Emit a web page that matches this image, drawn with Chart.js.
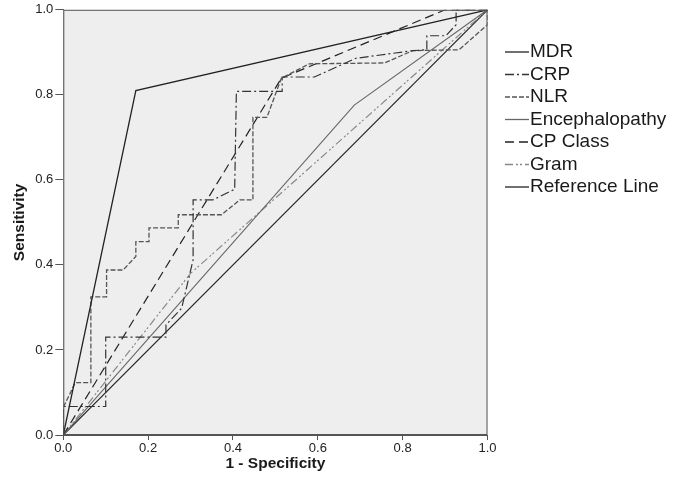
<!DOCTYPE html>
<html lang="en">
<head>
<meta charset="UTF-8">
<title>ROC</title>
<script src="https://cdn.jsdelivr.net/npm/chart.js@4.4.0/dist/chart.umd.min.js"></script>
<style>
  body { margin: 0; background: #fff; }
  #wrap { width: 683px; height: 484px; }
</style>
</head>
<body>
<div id="wrap"><canvas id="chart" width="683" height="484"></canvas></div>
<script>
// curve coordinates (1 - specificity, sensitivity)
const mdrX = [0, 0.171, 1];
const mdrY = [0, 0.81, 1];

const crpX = [0, 0, 0.1, 0.1, 0.242, 0.242, 0.279, 0.306, 0.306, 0.353, 0.404, 0.408, 0.516, 0.516, 0.592, 0.69, 0.824, 0.857, 0.857, 0.902, 0.926, 0.926, 1];
const crpY = [0, 0.067, 0.067, 0.23, 0.23, 0.259, 0.298, 0.412, 0.553, 0.553, 0.578, 0.808, 0.808, 0.842, 0.842, 0.886, 0.904, 0.906, 0.939, 0.939, 0.965, 1, 1];

const nlrX = [0, 0, 0.028, 0.065, 0.065, 0.102, 0.102, 0.141, 0.171, 0.171, 0.202, 0.202, 0.271, 0.271, 0.373, 0.416, 0.447, 0.447, 0.48, 0.514, 0.58, 0.757, 0.824, 0.933, 1, 1];
const nlrY = [0, 0.065, 0.123, 0.123, 0.325, 0.325, 0.388, 0.388, 0.42, 0.455, 0.455, 0.487, 0.487, 0.518, 0.518, 0.553, 0.553, 0.747, 0.747, 0.839, 0.873, 0.875, 0.904, 0.906, 0.965, 1];

const encX = [0, 0.686, 1];
const encY = [0, 0.776, 1];

const cpX = [0, 0.514, 0.9, 1];
const cpY = [0, 0.839, 1, 1];

const gramX = [0, 0.3, 1];
const gramY = [0, 0.38, 1];

const refX = [0, 1];
const refY = [0, 1];

const seriesNames = ['MDR', 'CRP', 'NLR', 'Encephalopathy', 'CP Class', 'Gram', 'Reference Line'];
const tickValues = [0, 0.2, 0.4, 0.6, 0.8, 1.0];

const FONT = "'Liberation Sans', Arial, sans-serif";

function pts(xs, ys) {
  return xs.map((x, i) => ({ x: x, y: ys[i] }));
}

function line(label, xs, ys, color, dash, width) {
  return {
    label: label,
    data: pts(xs, ys),
    showLine: true,
    borderColor: color,
    borderDash: dash,
    borderWidth: width,
    pointRadius: 0,
    fill: false,
    tension: 0
  };
}

const datasets = [
  line(seriesNames[0], mdrX, mdrY, '#222', [], 1.3),
  line(seriesNames[1], crpX, crpY, '#333', [9, 3, 2, 3], 1.2),
  line(seriesNames[2], nlrX, nlrY, '#555', [5, 2], 1.3),
  line(seriesNames[3], encX, encY, '#666', [], 1.1),
  line(seriesNames[4], cpX, cpY, '#222', [9, 5], 1.2),
  line(seriesNames[5], gramX, gramY, '#888', [8, 3, 2, 2, 2, 3], 1.2),
  line(seriesNames[6], refX, refY, '#222', [], 1.2)
];

// grey plot background and frame
const plotFrame = {
  id: 'plotFrame',
  beforeDatasetsDraw(chart) {
    const a = chart.chartArea, ctx = chart.ctx;
    ctx.save();
    ctx.fillStyle = '#eeeeee';
    ctx.fillRect(a.left, a.top, a.right - a.left, a.bottom - a.top);
    ctx.restore();
  },
  afterDatasetsDraw(chart) {
    const a = chart.chartArea, ctx = chart.ctx;
    ctx.save();
    ctx.strokeStyle = '#555';
    ctx.lineWidth = 1;
    ctx.strokeRect(a.left + 0.5, a.top + 0.5, a.right - a.left - 1, a.bottom - a.top - 1);
    ctx.restore();
  }
};

// legend on the right, short line sample + label
const sideLegend = {
  id: 'sideLegend',
  afterDraw(chart) {
    const ctx = chart.ctx;
    ctx.save();
    ctx.font = '19px ' + FONT;
    ctx.textBaseline = 'middle';
    ctx.fillStyle = '#1a1a1a';
    chart.data.datasets.forEach((ds, i) => {
      const y = 52 + i * 22.5;
      ctx.beginPath();
      ctx.setLineDash(ds.borderDash || []);
      ctx.strokeStyle = ds.borderColor;
      ctx.lineWidth = 1.3;
      ctx.moveTo(505, y);
      ctx.lineTo(529, y);
      ctx.stroke();
      ctx.setLineDash([]);
      ctx.fillText(ds.label, 530, y);
    });
    ctx.restore();
  }
};

const tickCb = v => (Math.round(v * 10) / 10).toFixed(1);

new Chart(document.getElementById('chart').getContext('2d'), {
  type: 'scatter',
  data: { datasets: datasets },
  options: {
    responsive: false,
    animation: false,
    layout: { padding: { left: 0, right: 195.5, top: 9.7, bottom: 0 } },
    plugins: { legend: { display: false }, tooltip: { enabled: false } },
    scales: {
      x: {
        type: 'linear', min: 0, max: 1,
        afterBuildTicks: s => { s.ticks = tickValues.map(v => ({ value: v })); },
        afterFit: s => { s.height = 49; },
        ticks: { callback: tickCb, padding: 1, color: '#222', font: { family: FONT, size: 13 }, maxRotation: 0 },
        grid: { drawOnChartArea: false, drawTicks: true, tickLength: 5, color: '#555' },
        border: { display: true, color: '#555' },
        title: { display: true, text: '1 - Specificity', color: '#1a1a1a', font: { family: FONT, size: 15.5, weight: 'bold' }, padding: { top: 0, bottom: 11 } }
      },
      y: {
        type: 'linear', min: 0, max: 1,
        afterBuildTicks: s => { s.ticks = tickValues.map(v => ({ value: v })); },
        afterFit: s => { s.width = 63.3; },
        ticks: { callback: tickCb, padding: 2, color: '#222', font: { family: FONT, size: 13 } },
        grid: { drawOnChartArea: false, drawTicks: true, tickLength: 8, color: '#555' },
        border: { display: true, color: '#555' },
        title: { display: true, text: 'Sensitivity', color: '#1a1a1a', font: { family: FONT, size: 15.5, weight: 'bold' }, padding: { top: 10, bottom: 0 } }
      }
    }
  },
  plugins: [plotFrame, sideLegend]
});
</script>
</body>
</html>
